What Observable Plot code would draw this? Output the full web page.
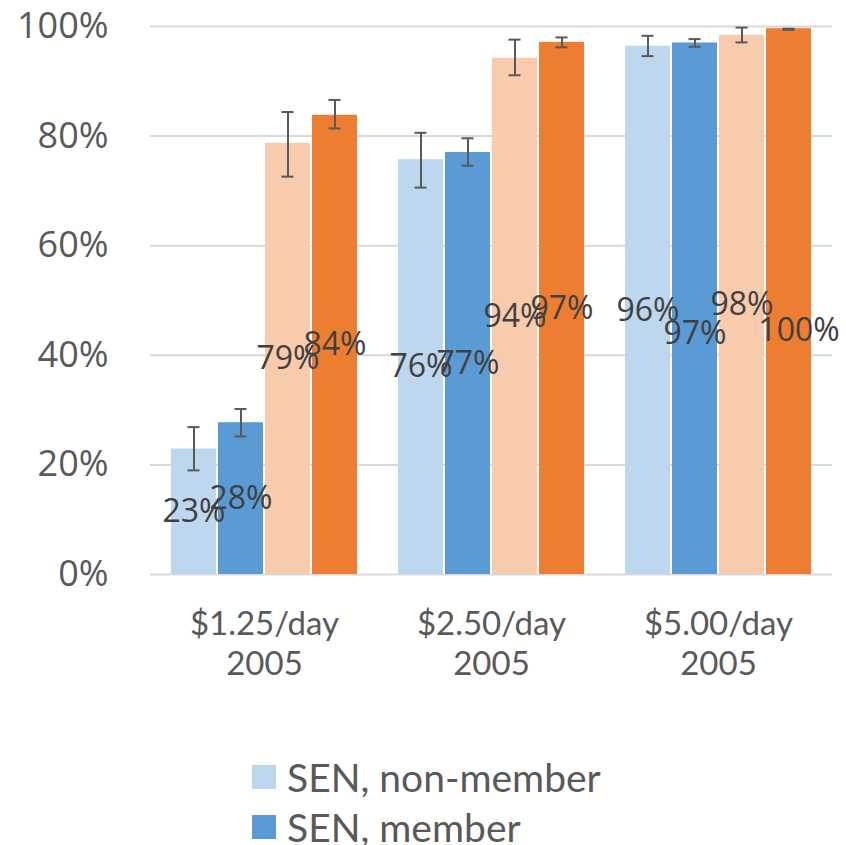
<!DOCTYPE html>
<html>
<head>
<meta charset="utf-8">
<script src="https://cdn.jsdelivr.net/npm/d3@7"></script>
<script src="https://cdn.jsdelivr.net/npm/@observablehq/plot@0.6"></script>
<style>
  html, body { margin: 0; padding: 0; background: #fff; }
  #wrap { position: relative; width: 846px; height: 845px; overflow: hidden; }
  #legend { position: absolute; left: 252px; top: 752px; font-family: Lato, sans-serif; font-size: 39px; color: #595959; }
  .item { display: flex; align-items: center; height: 50px; line-height: 1; }
  .sw { width: 24px; height: 24px; margin-right: 11px; flex: none; }
</style>
</head>
<body>
<div id="wrap"><div id="chart"></div><div id="legend"></div></div>
<script>
const groups = ["$1.25/day\n2005", "$2.50/day\n2005", "$5.00/day\n2005"];
const series = ["SEN, non-member", "SEN, member", "Non-SEN, non-member", "Non-SEN, member"];
const colors = ["#BDD7EE", "#5B9BD5", "#F8CBAD", "#ED7D31"];
const legendSeries = ["SEN, non-member", "SEN, member"];

// values per series, one per group
const senNonMember    = [0.229, 0.757, 0.964];
const senMember       = [0.277, 0.770, 0.970];
const nonSenNonMember = [0.787, 0.942, 0.984];
const nonSenMember    = [0.838, 0.971, 0.996];
// error bar bounds
const lowNonMember    = [0.190, 0.706, 0.946];
const highNonMember   = [0.269, 0.806, 0.983];
const lowMember       = [0.252, 0.746, 0.963];
const highMember      = [0.302, 0.796, 0.977];
const lowNonSenNon    = [0.726, 0.911, 0.971];
const highNonSenNon   = [0.844, 0.976, 0.998];
const lowNonSenMem    = [0.814, 0.962, 0.994];
const highNonSenMem   = [0.866, 0.980, 0.996];
const yTicks = [0, 0.2, 0.4, 0.6, 0.8, 1.0];

const values = [senNonMember, senMember, nonSenNonMember, nonSenMember];
const lows = [lowNonMember, lowMember, lowNonSenNon, lowNonSenMem];
const highs = [highNonMember, highMember, highNonSenNon, highNonSenMem];

const table = groups.flatMap((g, i) => series.map((s, j) => ({
  group: g, gi: i, series: s, si: j, value: values[j][i], lo: lows[j][i], hi: highs[j][i]
})));

const pct = d3.format(".0%");
const isNudgeA = d => d.gi === 2 && d.si === 1;
const isNudgeB = d => d.gi === 2 && d.si === 3;

const chart = Plot.plot({
  width: 846,
  height: 700,
  marginLeft: 150,
  marginRight: 14,
  marginTop: 26,
  marginBottom: 126,
  style: { background: "transparent", overflow: "visible" },
  fx: { domain: groups, paddingInner: 0.173, paddingOuter: 0.0865 },
  x: { domain: series, paddingInner: 0.05, paddingOuter: 0, axis: null },
  y: { domain: [0, 1], axis: null },
  color: { domain: series, range: colors },
  marks: [
    Plot.ruleY(yTicks, { y: d => d, stroke: "#D9D9D9", strokeWidth: 2, insetLeft: -20, insetRight: -20 }),
    Plot.barY(table, { fx: "group", x: "series", y: "value", fill: "series" }),
    Plot.ruleX(table, { fx: "group", x: "series", y1: "lo", y2: "hi", stroke: "#595959", strokeWidth: 2 }),
    Plot.tickY(table, { fx: "group", x: "series", y: "hi", stroke: "#595959", strokeWidth: 2, insetLeft: 16.5, insetRight: 16.5 }),
    Plot.tickY(table, { fx: "group", x: "series", y: "lo", stroke: "#595959", strokeWidth: 2, insetLeft: 16.5, insetRight: 16.5 }),
    Plot.text(table.filter(d => !isNudgeA(d) && !isNudgeB(d)), { fx: "group", x: "series", y: d => d.value / 2, text: d => pct(d.value), fontFamily: "Open Sans", fontSize: 32, fill: "#404040", lineAnchor: "middle" }),
    Plot.text(table.filter(isNudgeA), { fx: "group", x: "series", y: d => d.value / 2, text: d => pct(d.value), fontFamily: "Open Sans", fontSize: 32, fill: "#404040", lineAnchor: "middle", dy: 25 }),
    Plot.text(table.filter(isNudgeB), { fx: "group", x: "series", y: d => d.value / 2, text: d => pct(d.value), fontFamily: "Open Sans", fontSize: 32, fill: "#404040", lineAnchor: "middle", dy: 29, dx: 10 }),
    Plot.axisY({ ticks: yTicks, tickFormat: d3.format(".0%"), tickSize: 0, tickPadding: 62, fontSize: 36, fontFamily: "Open Sans", fill: "#595959", label: null }),
    Plot.axisFx({ anchor: "bottom", tickSize: 0, tickPadding: 32, fontSize: 33, fontFamily: "Lato", fill: "#595959", lineHeight: 1.22, label: null })
  ]
});
document.getElementById("chart").appendChild(chart);

const legend = document.getElementById("legend");
legendSeries.forEach(s => {
  const item = document.createElement("div");
  item.className = "item";
  const sw = document.createElement("span");
  sw.className = "sw";
  sw.style.background = colors[series.indexOf(s)];
  const t = document.createElement("span");
  t.textContent = s;
  item.appendChild(sw);
  item.appendChild(t);
  legend.appendChild(item);
});
</script>
</body>
</html>
